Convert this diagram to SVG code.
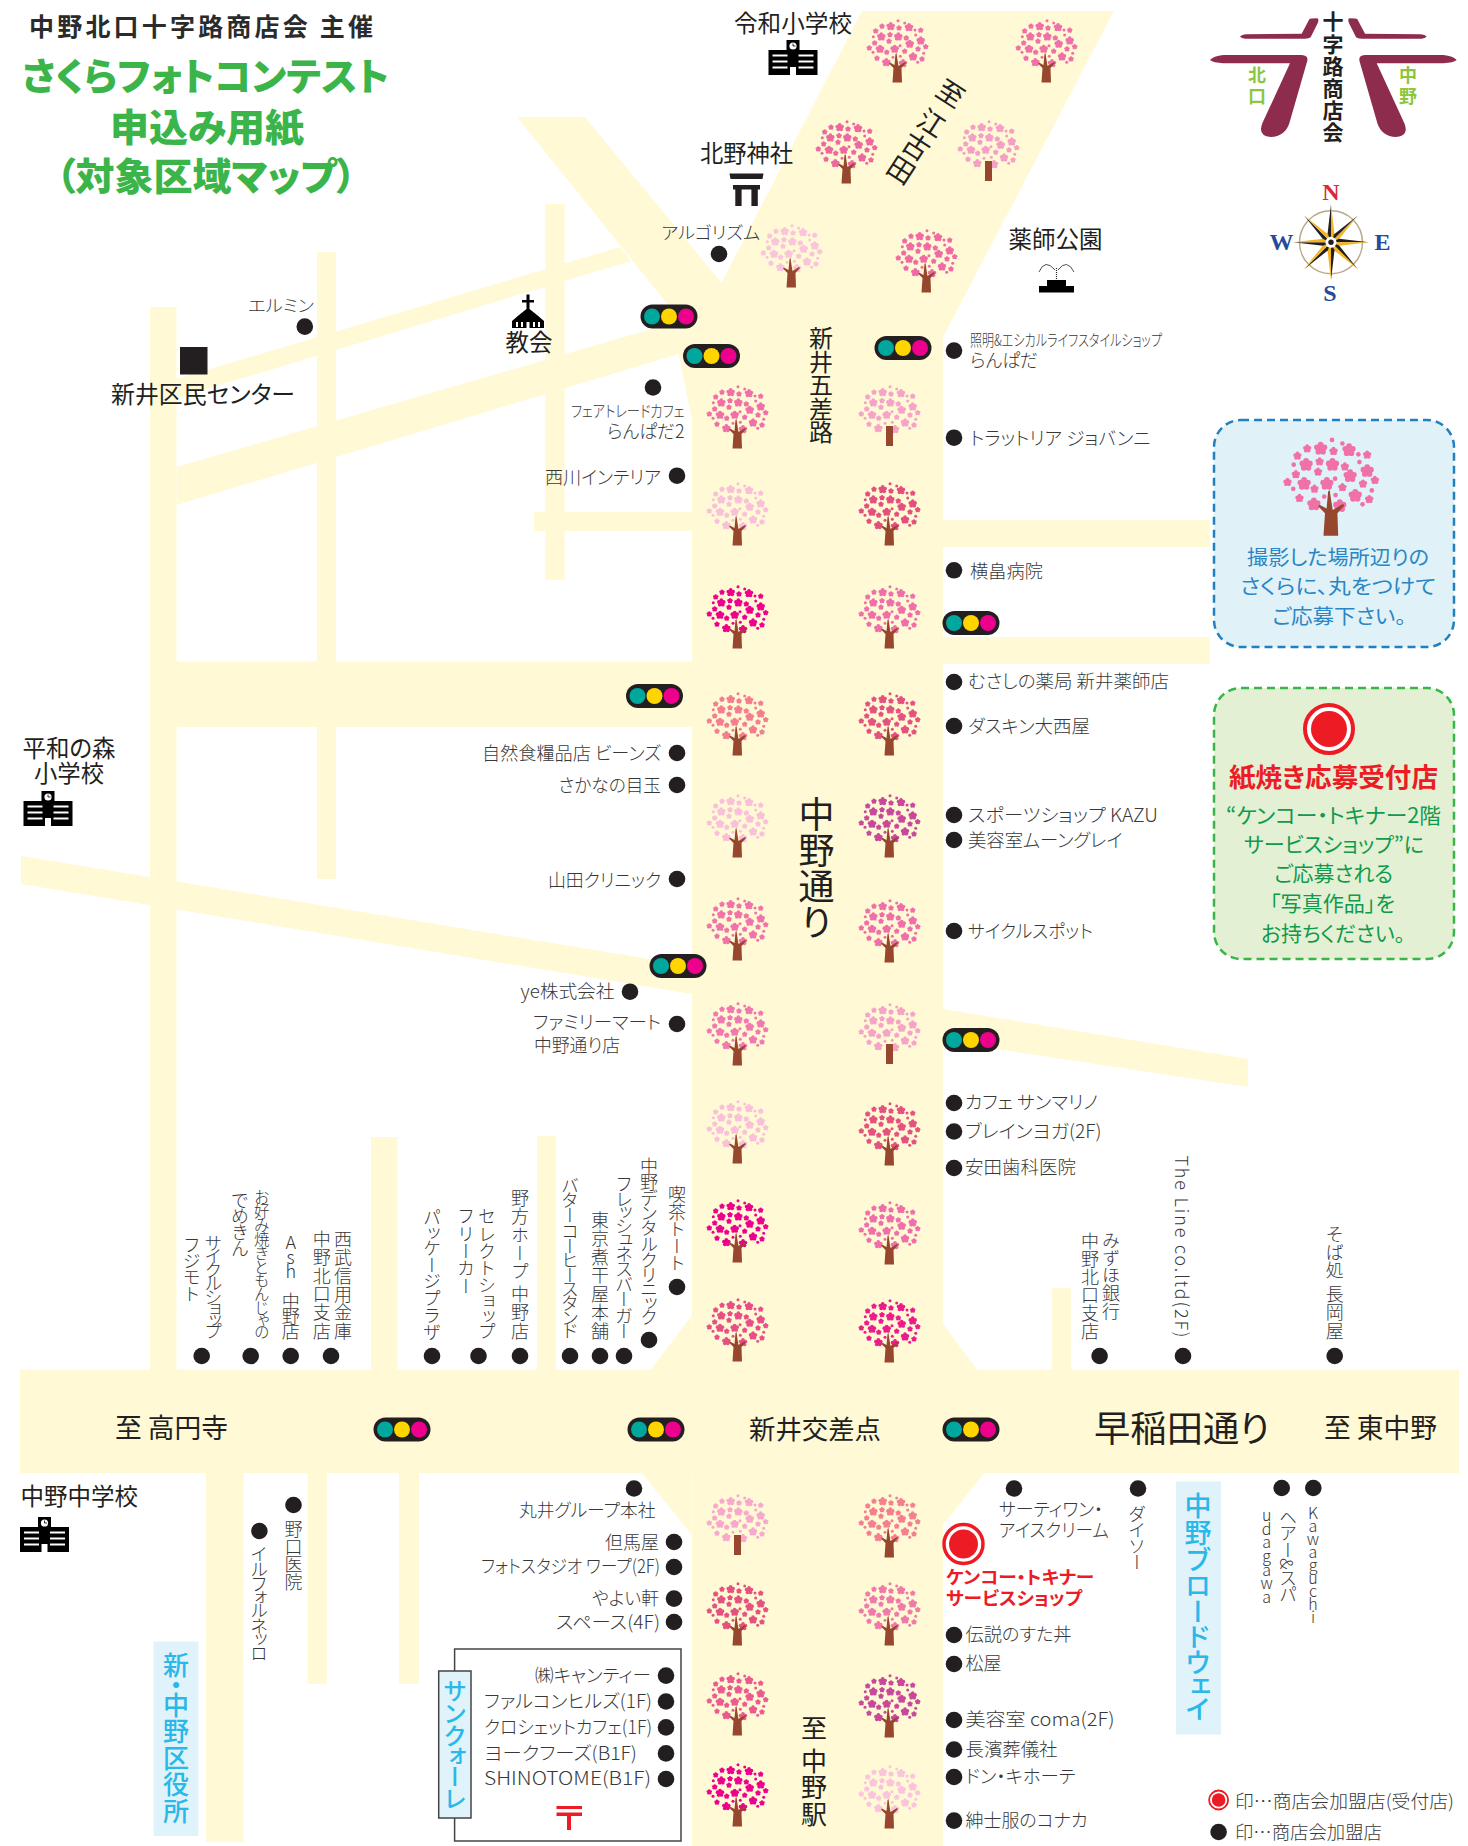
<svg xmlns="http://www.w3.org/2000/svg" xmlns:xlink="http://www.w3.org/1999/xlink" width="1468" height="1846" viewBox="0 0 1468 1846">
<style>
text{font-family:"Noto Sans CJK JP","Noto Sans",sans-serif;fill:#2b2b2b;font-feature-settings:"palt"}
.s{font-size:18.500px;font-weight:300;fill:#383838}
.c{font-size:16px;font-weight:300;fill:#383838}
.m{font-size:23.500px;fill:#231f20}
.b{font-size:27px;fill:#231f20}
.v{writing-mode:vertical-rl;font-size:18px;font-weight:300;fill:#383838;font-feature-settings:"vpal"}
.u{text-orientation:upright}
.g{font-weight:900;fill:#3bb54a;font-size:38px}
.bl{font-size:20.500px;fill:#2a86c6}
.gr{font-size:21px;fill:#0f9a4c}
.cy{fill:#2ab7e9;writing-mode:vertical-rl;font-size:26px;font-weight:500;font-feature-settings:"vpal"}
.r{fill:#ed1c24;font-weight:700}
.road{fill:#fff9d5}
.d{fill:#231f20}
.tr{fill:#96472d}
.ser{font-family:"Liberation Serif",serif;font-weight:700;font-size:24px;text-anchor:middle}
</style>
<defs>
<g id="b"><circle r="2"/><circle cx="0" cy="-2.500" r="1.850"/><circle cx="2.400" cy="-.8" r="1.850"/><circle cx="1.500" cy="2" r="1.850"/><circle cx="-1.500" cy="2" r="1.850"/><circle cx="-2.400" cy="-.8" r="1.850"/></g>
<g id="m"><circle r="1.300"/><circle cx="0" cy="-1.600" r="1.200"/><circle cx="1.500" cy="-.5" r="1.200"/><circle cx=".95" cy="1.300" r="1.200"/><circle cx="-.95" cy="1.300" r="1.200"/><circle cx="-1.500" cy="-.5" r="1.200"/></g>
<g id="crown">
<use href="#b" x="-7.300" y="-17.700"/><use href="#b" x="11" y="-16.700"/><use href="#b" x="-16.700" y="-7.300"/><use href="#b" x=".3" y="-7.300"/><use href="#b" x="22.700" y="-3.300"/><use href="#b" x="11.700" y="0"/><use href="#b" x="-18" y="5"/><use href="#b" x="-3.300" y="5"/><use href="#b" x="15" y="12.700"/><use href="#b" x="-11.700" y="18.300"/><use href="#b" x="5" y="19.300"/>
<use href="#m" x="-16" y="-17.700"/><use href="#m" x="1" y="-16"/><use href="#m" x="22.700" y="-13.700"/><use href="#m" x="-22.300" y="-13"/><use href="#m" x="-8" y="-9.300"/><use href="#m" x="8.300" y="-6"/><use href="#m" x="20" y="5"/><use href="#m" x="27.700" y="2.700"/><use href="#m" x="-23.300" y="-1"/><use href="#m" x="-9" y="-2.700"/><use href="#m" x="-28.700" y="4"/><use href="#m" x="6.700" y="7.300"/><use href="#m" x="-21" y="14.300"/><use href="#m" x="-11.300" y="8.300"/><use href="#m" x="24" y="15"/>
<circle cx="0" cy="-23.300" r="1.500"/><circle cx="6.700" cy="-21" r="1.500"/><circle cx="17" cy="-14" r="1.500"/><circle cx="-24.700" cy="-7.300" r="1.500"/><circle cx="17.700" cy="-9" r="1.500"/><circle cx="2" cy="1.700" r="1.500"/><circle cx="-25" cy="8.300" r="1.500"/><circle cx="25.700" cy="9.300" r="1.500"/><circle cx="19.700" cy="18.300" r="1.500"/><circle cx="-5" cy="13.300" r="1.500"/><circle cx="2.300" cy="12.300" r="1.500"/>
</g>
<g id="t"><use href="#crown"/><path class="tr" d="M-5.500,38.500 L-4.500,24 L-9,19.500 L-8,18.500 L-3.500,21 L-2.500,10 L-1.500,9 L-.5,16 L.5,22 L7,18 L8,19 L3.500,24 L4,38.500Z"/></g>
<g id="st"><use href="#crown"/><rect class="tr" x="-4" y="16" width="7" height="20"/></g>
<g id="sig"><rect x="-28.500" y="-12" width="57" height="24" rx="12" class="d"/><circle cx="-17" r="8" fill="#00a79d"/><circle cx="0" r="8" fill="#ffd500"/><circle cx="17" r="8" fill="#ec008c"/></g>
<g id="sch"><rect x="18" y="0" width="13" height="11"/><rect x="0" y="10" width="49" height="25"/><circle cx="24.500" cy="6" r="3.600" fill="#fff"/><path d="M24.500,3.500V6H27" stroke="#000" stroke-width=".8" fill="none"/><path d="M4,15.500H19M30,15.500H45M4,21.500H19M30,21.500H45M4,27.500H19M30,27.500H45" stroke="#fff" stroke-width="2"/><rect x="21.500" y="27" width="6" height="8" fill="#fff"/></g>
<g id="lo"><path d="M120,110 Q125,104 140,103 L305,101 L328,58 Q330,55 352,55 Q358,57 353,70 L332,112 Q328,116 315,116 L135,116 Q125,115 120,110Z"/><path d="M30,180 Q40,168 70,165 L305,165 Q325,166 322,182 L268,370 Q255,410 212,411 Q172,408 187,370 L270,190 L70,190 Q40,188 30,180Z"/></g>
<g id="cp"><path d="M0,-38 L-3.500,-8 L0,0Z" fill="#231f20"/><path d="M0,-38 L3.500,-8 L0,0Z" fill="#f2b51f"/></g>
</defs>
<rect width="1468" height="1846" fill="#fff"/>

<g id="roads" class="road">
<rect x="692" y="300" width="251" height="1546"/>
<path d="M862,11H1114L943,337V420H692L669,306L517,117H585L721.500,283Z"/>
<path d="M176.500,379L620,247L631,261L176.500,398Z"/>
<path d="M176.500,467L655,328L692,320V350L176.500,505Z"/>
<rect x="150" y="307" width="26.500" height="1065"/>
<rect x="317" y="252" width="19" height="627"/>
<rect x="545.400" y="204" width="19.200" height="376"/>
<rect x="534" y="512" width="160" height="19"/>
<rect x="176" y="661.500" width="518" height="65.500"/>
<path d="M21,856L692,966V994L21,884Z"/>
<rect x="371" y="1137" width="26.500" height="235"/>
<rect x="537" y="1136" width="19" height="236"/>
<rect x="20" y="1369.500" width="1439" height="103.500"/>
<path d="M691.500,1316L651,1369.500H692Z"/>
<path d="M943,1324L977,1369.500H943Z"/>
<path d="M642,1473L691.500,1534.500V1473Z"/>
<path d="M984,1473L943,1525V1473Z"/>
<rect x="206" y="1473" width="37.500" height="369"/>
<rect x="307.600" y="1473" width="19.200" height="211"/>
<rect x="399" y="1473" width="20" height="211"/>
<rect x="1052" y="1288" width="19" height="82"/>
<rect x="943" y="520" width="267" height="27"/>
<rect x="943" y="637" width="267" height="27"/>
<path d="M943,1009L1248,1059V1087L943,1041Z"/>
</g>

<g id="notices">
<rect x="1214" y="420" width="240" height="227" rx="27" fill="#e0f2f7" stroke="#2180bf" stroke-width="2.500" stroke-dasharray="8 5"/>
<rect x="1214" y="688" width="240" height="271" rx="27" fill="#e3f0d3" stroke="#39b54a" stroke-width="2.500" stroke-dasharray="8 5"/>
<use href="#t" fill="#f070a8" transform="translate(1332,476) scale(1.55)"/>
<text class="bl" x="1247" y="565" textLength="182" lengthAdjust="spacingAndGlyphs">撮影した場所辺りの</text>
<text class="bl" x="1240" y="594" textLength="196" lengthAdjust="spacingAndGlyphs">さくらに、丸をつけて</text>
<text class="bl" x="1272" y="624" textLength="134" lengthAdjust="spacingAndGlyphs">ご応募下さい。</text>
<circle cx="1329" cy="729" r="24" fill="#fff" stroke="#ed1c24" stroke-width="4"/><circle cx="1329" cy="729" r="18" fill="#ed1c24"/>
<text class="r" style="font-size:26px" x="1229" y="787" textLength="209" lengthAdjust="spacingAndGlyphs">紙焼き応募受付店</text>
<text class="gr" x="1226" y="822.500" textLength="215" lengthAdjust="spacingAndGlyphs">“ケンコー・トキナー2階</text>
<text class="gr" x="1244" y="852" textLength="180" lengthAdjust="spacingAndGlyphs">サービスショップ”に</text>
<text class="gr" x="1274" y="881" textLength="119" lengthAdjust="spacingAndGlyphs">ご応募される</text>
<text class="gr" x="1270" y="910.500" textLength="125" lengthAdjust="spacingAndGlyphs">「写真作品」を</text>
<text class="gr" x="1261" y="940.500" textLength="144" lengthAdjust="spacingAndGlyphs">お持ちください。</text>
</g>

<g id="trees">
<use href="#t" fill="#f070a8" x="898" y="44"/><use href="#t" fill="#f070a8" x="1047" y="44"/>
<use href="#t" fill="#ee68a0" x="847" y="145"/><use href="#st" fill="#f59fc6" x="989" y="145"/>
<use href="#t" fill="#fac4dc" x="792" y="249"/><use href="#t" fill="#f06aa5" x="927" y="254"/>
<use href="#t" fill="#f070a8" x="738" y="410"/><use href="#st" fill="#f6a3c8" x="890" y="410"/>
<use href="#t" fill="#fac0da" x="738" y="507"/><use href="#t" fill="#e44f7e" x="890" y="507"/>
<use href="#t" fill="#ec008c" x="738" y="610"/><use href="#t" fill="#f06ea9" x="890" y="610"/>
<use href="#t" fill="#f47d8f" x="738" y="717"/><use href="#t" fill="#e5527f" x="890" y="717"/>
<use href="#t" fill="#fac0da" x="738" y="819"/><use href="#t" fill="#c9489b" x="890" y="819"/>
<use href="#t" fill="#f073a9" x="738" y="922"/><use href="#t" fill="#ef6fa8" x="890" y="924"/>
<use href="#t" fill="#f278b0" x="738" y="1027"/><use href="#st" fill="#f6a3c8" x="890" y="1028"/>
<use href="#t" fill="#fac0da" x="738" y="1125"/><use href="#t" fill="#e5527f" x="890" y="1127"/>
<use href="#t" fill="#ec008c" x="738" y="1224"/><use href="#t" fill="#f06eaa" x="890" y="1226"/>
<use href="#t" fill="#e84f86" x="738" y="1323"/><use href="#t" fill="#ec1c8c" x="890" y="1324"/>
<use href="#st" fill="#f8a8cc" x="738" y="1519"/><use href="#t" fill="#f57f8f" x="890" y="1519"/>
<use href="#t" fill="#e5527f" x="738" y="1607"/><use href="#t" fill="#f07aaa" x="890" y="1607"/>
<use href="#t" fill="#ec5a90" x="738" y="1697"/><use href="#t" fill="#c9489b" x="890" y="1699"/>
<use href="#t" fill="#ec008c" x="738" y="1788"/><use href="#t" fill="#fac4dc" x="890" y="1790"/>
</g>

<g id="signals">
<use href="#sig" x="669" y="316.500"/><use href="#sig" x="711.500" y="356"/><use href="#sig" x="903" y="348"/><use href="#sig" x="971" y="623"/><use href="#sig" x="654.500" y="696"/><use href="#sig" x="678" y="966"/><use href="#sig" x="971" y="1040"/><use href="#sig" x="402" y="1429.500"/><use href="#sig" x="656" y="1429.500"/><use href="#sig" x="971" y="1429.500"/>
</g>

<g id="title">
<text x="29" y="36" style="font-size:25px;font-weight:700;font-feature-settings:normal" textLength="344" lengthAdjust="spacing">中野北口十字路商店会 主催</text>
<text class="g" x="22" y="90" textLength="367" lengthAdjust="spacingAndGlyphs">さくらフォトコンテスト</text>
<text class="g" x="110" y="141" textLength="194" lengthAdjust="spacingAndGlyphs">申込み用紙</text>
<text class="g" x="56" y="190" textLength="300" lengthAdjust="spacingAndGlyphs">（対象区域マップ）</text>
</g>

<g id="logo">
<use href="#lo" fill="#8e2c4d" transform="translate(1200,0) scale(.3333)"/>
<use href="#lo" fill="#8e2c4d" transform="translate(1466.700,0) scale(-.3333,.3333)"/>
<text class="v" style="font-size:21px;font-weight:700;fill:#231f20;font-feature-settings:normal" x="1333" y="11" textLength="132">十字路商店会</text>
<text class="v" style="font-size:18px;font-weight:700;fill:#8cc63f;font-feature-settings:normal" x="1257" y="66" textLength="39">北口</text>
<text class="v" style="font-size:18px;font-weight:700;fill:#8cc63f;font-feature-settings:normal" x="1408" y="66" textLength="39">中野</text>
</g>

<g id="compass">
<circle cx="1331" cy="242.300" r="31.500" fill="none" stroke="#b9a98c" stroke-width="1.500"/>
<g transform="translate(1331,242.300)"><use href="#cp"/><use href="#cp" transform="rotate(45)"/><use href="#cp" transform="rotate(90)"/><use href="#cp" transform="rotate(135)"/><use href="#cp" transform="rotate(180)"/><use href="#cp" transform="rotate(225)"/><use href="#cp" transform="rotate(270)"/><use href="#cp" transform="rotate(315)"/><circle r="5.500" fill="#fff"/><circle r="2.700" fill="#231f20"/></g>
<text class="ser" style="fill:#d92b36" x="1331" y="200">N</text>
<text class="ser" style="fill:#254b9c" x="1330" y="301">S</text>
<text class="ser" style="fill:#254b9c" x="1281.500" y="250">W</text>
<text class="ser" style="fill:#254b9c" x="1382.500" y="250">E</text>
</g>

<g id="landmarks">
<text class="m" x="734" y="31.500" textLength="118" lengthAdjust="spacingAndGlyphs">令和小学校</text>
<use href="#sch" x="768.500" y="40"/>
<text class="m" x="700" y="162" textLength="93" lengthAdjust="spacingAndGlyphs">北野神社</text>
<path d="M729.500,173.500H763.500L762.500,179H730.500ZM733,185H760V189.500H757.800V206H751.400V189.500H741.600V206H735.300V189.500H733Z" fill="#231f20"/>
<text class="m" x="1008.500" y="248" textLength="94" lengthAdjust="spacingAndGlyphs">薬師公園</text>
<path d="M1039,272Q1045,258 1055,270M1058,270Q1067,258 1074,272" fill="none" stroke="#231f20" stroke-width=".8"/>
<path d="M1056.500,268V280" stroke="#231f20" stroke-width="1.200" stroke-dasharray="1 1"/>
<path d="M1047,280H1066V286H1074V292.500H1039V286H1047Z" fill="#000"/>
<text class="m" x="505.500" y="351" textLength="47" lengthAdjust="spacingAndGlyphs">教会</text>
<path d="M526.500,294.600H529.500V300H534V302.500H529.500V309L537,315L544,321V328H512V321L519,315L526.500,309V302.500H522V300H526.500Z" fill="#000"/>
<path d="M516,322h2v5h-2zM521,322h2v5h-2zM526.500,322h3v6h-3zM533,322h2v5h-2zM538,322h2v5h-2z" fill="#fff"/>
<text class="m" x="111" y="403" textLength="184" lengthAdjust="spacingAndGlyphs">新井区民センター</text>
<rect class="d" x="180" y="347" width="27.500" height="27.500"/>
<text class="m" x="22.500" y="756.500" textLength="93" lengthAdjust="spacingAndGlyphs">平和の森</text>
<text class="m" x="34" y="782" textLength="70" lengthAdjust="spacingAndGlyphs">小学校</text>
<use href="#sch" x="23.500" y="791"/>
<text class="m" x="20.500" y="1505" textLength="117.500" lengthAdjust="spacingAndGlyphs">中野中学校</text>
<use href="#sch" x="20" y="1517"/>
<rect x="153.500" y="1641.500" width="45" height="194.500" fill="#e0f3fa"/>
<text class="cy" x="176" y="1652" textLength="172">新・中野区役所</text>
<rect x="1176" y="1481.500" width="45" height="253" fill="#e0f3fa"/>
<text class="cy" x="1198" y="1492" textLength="229" style="font-size:27px">中野ブロードウェイ</text>
<rect x="454.600" y="1649" width="226.400" height="192" fill="#fff" stroke="#444" stroke-width="1.500"/>
<rect x="438.700" y="1671" width="32.300" height="147" fill="#e0f3fa" stroke="#444" stroke-width="1.500"/>
<text class="cy" style="font-size:24px" x="455" y="1680" textLength="130">サンクォーレ</text>
<path d="M556.500,1806H582V1809H556.500ZM556.500,1812.500H582V1816H571V1830H567V1816H556.500Z" fill="#ed1c24"/>
</g>

<g id="road-labels">
<text class="b" x="115" y="1437.500" textLength="113" lengthAdjust="spacingAndGlyphs">至 高円寺</text>
<text class="b" x="749" y="1439" style="font-size:26px" textLength="132" lengthAdjust="spacingAndGlyphs">新井交差点</text>
<text class="b" x="1094" y="1442" style="font-size:36px" textLength="175.500" lengthAdjust="spacingAndGlyphs">早稲田通り</text>
<text class="b" x="1324" y="1437.500" textLength="113" lengthAdjust="spacingAndGlyphs">至 東中野</text>
<text class="v" style="font-size:24px;font-weight:400;fill:#231f20" x="821" y="326" textLength="118">新井五差路</text>
<text class="v" style="font-size:36px;font-weight:400;fill:#231f20" x="816.500" y="796" textLength="143">中野通り</text>
<text class="v" style="font-size:26px;font-weight:400;fill:#231f20" x="814" y="1715" textLength="112">至 中野駅</text>
<text class="v" style="font-size:27px;font-weight:400;fill:#231f20" transform="translate(958,82) rotate(33)" x="0" y="0" textLength="118">至 江古田</text>
</g>

<g id="shops" class="d">
<circle cx="304.800" cy="326.600" r="8.300"/><circle cx="719" cy="254" r="8.300"/><circle cx="653" cy="387.500" r="8.300"/><circle cx="677" cy="475.700" r="8.300"/><circle cx="677" cy="753" r="8.300"/><circle cx="677" cy="785" r="8.300"/><circle cx="677" cy="879" r="8.300"/><circle cx="630" cy="991.700" r="8.300"/><circle cx="677" cy="1024" r="8.300"/>
<circle cx="954" cy="350.600" r="8.300"/><circle cx="954" cy="437.700" r="8.300"/><circle cx="954" cy="570.300" r="8.300"/><circle cx="954" cy="682" r="8.300"/><circle cx="954" cy="726" r="8.300"/><circle cx="954" cy="815" r="8.300"/><circle cx="954" cy="840" r="8.300"/><circle cx="954" cy="931" r="8.300"/><circle cx="954" cy="1103" r="8.300"/><circle cx="954" cy="1131.500" r="8.300"/><circle cx="954" cy="1168" r="8.300"/>
<circle cx="201.700" cy="1356" r="8.300"/><circle cx="250.700" cy="1356" r="8.300"/><circle cx="290.700" cy="1356" r="8.300"/><circle cx="331" cy="1356" r="8.300"/><circle cx="432" cy="1356" r="8.300"/><circle cx="478.500" cy="1356" r="8.300"/><circle cx="520" cy="1356" r="8.300"/><circle cx="570" cy="1356" r="8.300"/><circle cx="600" cy="1356" r="8.300"/><circle cx="624" cy="1356" r="8.300"/><circle cx="649" cy="1340" r="8.300"/><circle cx="677" cy="1287" r="8.300"/><circle cx="1099.600" cy="1356" r="8.300"/><circle cx="1183" cy="1356" r="8.300"/><circle cx="1334.700" cy="1356" r="8.300"/>
<circle cx="1014" cy="1488.500" r="8.300"/><circle cx="1138" cy="1488.500" r="8.300"/><circle cx="1281.700" cy="1488" r="8.300"/><circle cx="1313.300" cy="1488" r="8.300"/>
<circle cx="634" cy="1488.500" r="8.300"/><circle cx="674" cy="1542" r="8.300"/><circle cx="674" cy="1567" r="8.300"/><circle cx="674" cy="1598.600" r="8.300"/><circle cx="674" cy="1622" r="8.300"/>
<circle cx="666" cy="1675.600" r="8.300"/><circle cx="666" cy="1701.500" r="8.300"/><circle cx="666" cy="1727.400" r="8.300"/><circle cx="666" cy="1753.400" r="8.300"/><circle cx="666" cy="1779" r="8.300"/>
<circle cx="259.400" cy="1531" r="8.300"/><circle cx="293.500" cy="1505" r="8.300"/>
<circle cx="954" cy="1635" r="8.300"/><circle cx="954" cy="1664" r="8.300"/><circle cx="954" cy="1720" r="8.300"/><circle cx="954" cy="1749.500" r="8.300"/><circle cx="954" cy="1777" r="8.300"/><circle cx="954" cy="1820.600" r="8.300"/>
<circle cx="1218.600" cy="1832" r="8.300"/>
<circle cx="963.500" cy="1544" r="19.500" fill="#fff" stroke="#ed1c24" stroke-width="3.500"/><circle cx="963.500" cy="1544" r="14.500" fill="#ed1c24"/>
<circle cx="1218.600" cy="1800" r="9.500" fill="#fff" stroke="#ed1c24" stroke-width="1.800"/><circle cx="1218.600" cy="1800" r="6.800" fill="#ed1c24"/>

<text class="s" style="font-size:17px" x="248" y="311.500" textLength="66" lengthAdjust="spacingAndGlyphs">エルミン</text>
<text class="s" style="font-size:17px" x="661.500" y="239" textLength="98.500" lengthAdjust="spacingAndGlyphs">アルゴリズム</text>
<text class="c" x="571" y="417" textLength="113.500" lengthAdjust="spacingAndGlyphs">フェアトレードカフェ</text>
<text class="s" x="607" y="438" textLength="77.500" lengthAdjust="spacingAndGlyphs">らんぱだ2</text>
<text class="s" x="545" y="484" textLength="116" lengthAdjust="spacingAndGlyphs">西川インテリア</text>
<text class="s" x="482" y="760" textLength="179" lengthAdjust="spacingAndGlyphs">自然食糧品店 ビーンズ</text>
<text class="s" x="558.500" y="792" textLength="102.500" lengthAdjust="spacingAndGlyphs">さかなの目玉</text>
<text class="s" x="548" y="887" textLength="113" lengthAdjust="spacingAndGlyphs">山田クリニック</text>
<text class="s" x="520.500" y="998" textLength="94" lengthAdjust="spacingAndGlyphs">ye株式会社</text>
<text class="s" x="533" y="1029" textLength="128" lengthAdjust="spacingAndGlyphs">ファミリーマート</text>
<text class="s" x="534" y="1052" textLength="86" lengthAdjust="spacingAndGlyphs">中野通り店</text>
<text class="c" x="970" y="346" textLength="192" lengthAdjust="spacingAndGlyphs">照明&amp;エシカルライフスタイルショップ</text>
<text class="s" x="970" y="367" textLength="68" lengthAdjust="spacingAndGlyphs">らんぱだ</text>
<text class="s" x="970" y="445" textLength="180.500" lengthAdjust="spacingAndGlyphs">トラットリア ジョバンニ</text>
<text class="s" x="970" y="578" textLength="73" lengthAdjust="spacingAndGlyphs">横畠病院</text>
<text class="s" x="968" y="688" textLength="201" lengthAdjust="spacingAndGlyphs">むさしの薬局 新井薬師店</text>
<text class="s" x="968" y="733" textLength="122" lengthAdjust="spacingAndGlyphs">ダスキン大西屋</text>
<text class="s" x="968" y="822" textLength="190" lengthAdjust="spacingAndGlyphs">スポーツショップ KAZU</text>
<text class="s" x="968" y="847" textLength="154.500" lengthAdjust="spacingAndGlyphs">美容室ムーングレイ</text>
<text class="s" x="968" y="938" textLength="125" lengthAdjust="spacingAndGlyphs">サイクルスポット</text>
<text class="s" x="965" y="1109" textLength="133" lengthAdjust="spacingAndGlyphs">カフェ サンマリノ</text>
<text class="s" x="965" y="1138" textLength="136.500" lengthAdjust="spacingAndGlyphs">ブレインヨガ(2F)</text>
<text class="s" x="965" y="1174" textLength="111" lengthAdjust="spacingAndGlyphs">安田歯科医院</text>
<text class="s" x="519" y="1517" textLength="136.500" lengthAdjust="spacingAndGlyphs">丸井グループ本社</text>
<text class="s" x="605" y="1549" textLength="54" lengthAdjust="spacingAndGlyphs">但馬屋</text>
<text class="s" x="481" y="1573" textLength="179" lengthAdjust="spacingAndGlyphs">フォトスタジオ ワープ(2F)</text>
<text class="s" x="592" y="1605" textLength="67" lengthAdjust="spacingAndGlyphs">やよい軒</text>
<text class="s" x="556" y="1629" textLength="104" lengthAdjust="spacingAndGlyphs">スペース(4F)</text>
<text class="s" x="535" y="1682" textLength="116" lengthAdjust="spacingAndGlyphs">㈱キャンティー</text>
<text class="s" x="484" y="1708" textLength="168" lengthAdjust="spacingAndGlyphs">ファルコンヒルズ(1F)</text>
<text class="s" x="484" y="1734" textLength="168" lengthAdjust="spacingAndGlyphs">クロシェットカフェ(1F)</text>
<text class="s" x="484" y="1760" textLength="153" lengthAdjust="spacingAndGlyphs">ヨークフーズ(B1F)</text>
<text class="s" x="484" y="1785" textLength="167" lengthAdjust="spacingAndGlyphs">SHINOTOME(B1F)</text>
<text class="s" x="999" y="1516" textLength="104" lengthAdjust="spacingAndGlyphs">サーティワン・</text>
<text class="s" x="999" y="1537" textLength="110" lengthAdjust="spacingAndGlyphs">アイスクリーム</text>
<text class="r" style="font-size:18px" x="946" y="1584" textLength="148" lengthAdjust="spacingAndGlyphs">ケンコー・トキナー</text>
<text class="r" style="font-size:18px" x="946" y="1605" textLength="136" lengthAdjust="spacingAndGlyphs">サービスショップ</text>
<text class="s" x="965.500" y="1641" textLength="106" lengthAdjust="spacingAndGlyphs">伝説のすた丼</text>
<text class="s" x="965.500" y="1670" textLength="36" lengthAdjust="spacingAndGlyphs">松屋</text>
<text class="s" x="965.500" y="1726" textLength="149" lengthAdjust="spacingAndGlyphs">美容室 coma(2F)</text>
<text class="s" x="965.500" y="1756" textLength="92" lengthAdjust="spacingAndGlyphs">長濱葬儀社</text>
<text class="s" x="965.500" y="1783" textLength="110" lengthAdjust="spacingAndGlyphs">ドン・キホーテ</text>
<text class="s" x="965.500" y="1827" textLength="122" lengthAdjust="spacingAndGlyphs">紳士服のコナカ</text>
<text class="s" x="1235" y="1807.500" textLength="219" lengthAdjust="spacingAndGlyphs">印…商店会加盟店(受付店)</text>
<text class="s" x="1235" y="1839" textLength="147" lengthAdjust="spacingAndGlyphs">印…商店会加盟店</text>

<text class="v" x="191.700" y="1237" textLength="65">フジモト</text>
<text class="v" x="213.300" y="1235" textLength="105">サイクルショップ</text>
<text class="v" x="240" y="1192" textLength="65">でめきん</text>
<text class="v" style="font-size:15.500px" x="261.700" y="1190" textLength="150">お好み焼きともんじゃの</text>
<text class="v u" x="290.700" y="1233" textLength="107">Ash 中野店</text>
<text class="v" x="321.700" y="1230" textLength="110">中野北口支店</text>
<text class="v" x="343" y="1230" textLength="110">西武信用金庫</text>
<text class="v" x="432" y="1209" textLength="131">パッケージプラザ</text>
<text class="v" x="466" y="1208" textLength="86">フリーカー</text>
<text class="v" x="487" y="1208" textLength="132">セレクトショップ</text>
<text class="v" x="520" y="1189" textLength="151">野方ホープ 中野店</text>
<text class="v" x="570" y="1177" textLength="163">バター コーヒースタンド</text>
<text class="v" x="600" y="1211" textLength="129">東京煮干屋本舗</text>
<text class="v" x="624" y="1175.500" textLength="164">フレッシュネスバーガー</text>
<text class="v" x="649" y="1157" textLength="169">中野デンタルクリニック</text>
<text class="v" x="677" y="1185" textLength="86">喫茶トート</text>
<text class="v" x="1111" y="1232" textLength="88">みずほ銀行</text>
<text class="v" x="1090" y="1232" textLength="108">中野北口支店</text>
<text class="v" x="1183" y="1155.500" textLength="182">The Line co.ltd(2F)</text>
<text class="v" x="1334.700" y="1226" textLength="114">そば処 長岡屋</text>
<text class="v" x="1137" y="1505" textLength="65">ダイソー</text>
<text class="v u" style="font-size:16px" x="1266.700" y="1507" textLength="98">udagawa</text>
<text class="v" x="1288" y="1510" textLength="93">ヘアー&amp;スパ</text>
<text class="v u" style="font-size:16px" x="1313" y="1505" textLength="120">Kawaguchi</text>
<text class="v" x="259" y="1546" textLength="116">イルフォルネッロ</text>
<text class="v" x="293.500" y="1520" textLength="71.500">野口医院</text>
</g>
</svg>
